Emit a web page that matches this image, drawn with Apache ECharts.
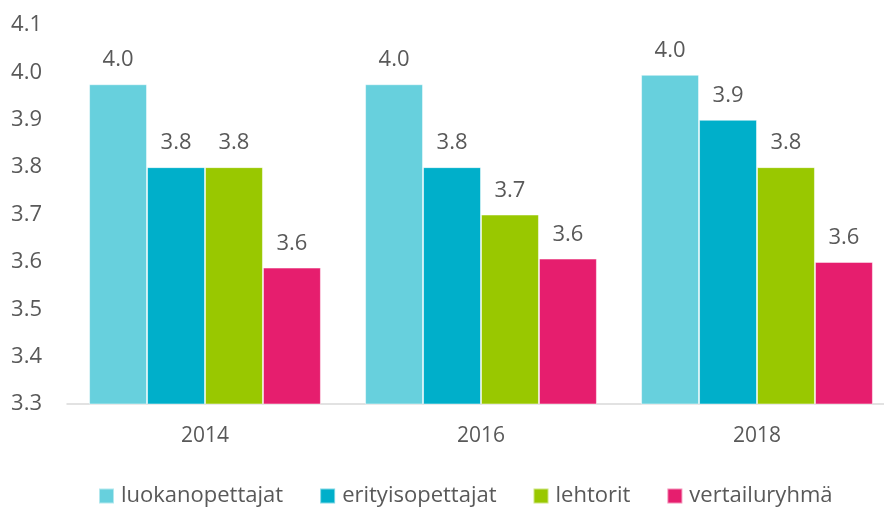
<!DOCTYPE html>
<html>
<head>
<meta charset="utf-8">
<script src="https://cdn.jsdelivr.net/npm/echarts@6/dist/echarts.min.js"></script>
<style>
  html, body { margin: 0; padding: 0; background: #fff; }
  #chart { width: 884px; height: 508px; }
</style>
</head>
<body>
<div id="chart"></div>
<script>
const years = ['2014', '2016', '2018'];
const seriesNames = ['luokanopettajat', 'erityisopettajat', 'lehtorit', 'vertailuryhmä'];
const luokanopettajat = [3.975, 3.975, 3.995];
const erityisopettajat = [3.8, 3.8, 3.9];
const lehtorit = [3.8, 3.7, 3.8];
const vertailuryhma = [3.588, 3.607, 3.6];
const colors = ['#67D0DD', '#00AFCA', '#99C800', '#E61E6E'];

const values = [luokanopettajat, erityisopettajat, lehtorit, vertailuryhma];
const font = '"Open Sans", "Noto Sans", sans-serif';
const textColor = '#595959';

const chart = echarts.init(document.getElementById('chart'));

const option = {
  animation: false,
  textStyle: { fontFamily: font },
  grid: {
    left: 67,
    top: 25,
    width: 828,
    bottom: 104,
    outerBoundsMode: 'none',
    containLabel: false
  },
  legend: {
    top: 480,
    left: 93,
    itemWidth: 15,
    itemHeight: 15,
    itemGap: 36,
    icon: 'rect',
    textStyle: { fontSize: 22, color: textColor, fontFamily: font, padding: [0, 0, 0, 2] },
    data: seriesNames
  },
  xAxis: {
    type: 'category',
    data: years,
    axisTick: { show: false },
    axisLine: { lineStyle: { color: '#D9D9D9', width: 1.5 } },
    axisLabel: { fontSize: 21, color: textColor, margin: 22 }
  },
  yAxis: {
    type: 'value',
    min: 3.3,
    max: 4.1,
    interval: 0.1,
    splitLine: { show: false },
    axisLine: { show: false },
    axisTick: { show: false },
    axisLabel: {
      fontSize: 22,
      color: textColor,
      margin: 25,
      formatter: v => v.toFixed(1)
    }
  },
  series: seriesNames.map((name, i) => ({
    name: name,
    type: 'bar',
    data: values[i],
    barGap: '0%',
    barCategoryGap: '16%',
    itemStyle: { color: colors[i], borderColor: 'rgba(255,255,255,0.5)', borderWidth: 1 },
    label: {
      show: true,
      position: 'top',
      distance: 13,
      fontSize: 22,
      color: textColor,
      formatter: p => p.value.toFixed(1)
    }
  }))
};

chart.setOption(option);
</script>
</body>
</html>
